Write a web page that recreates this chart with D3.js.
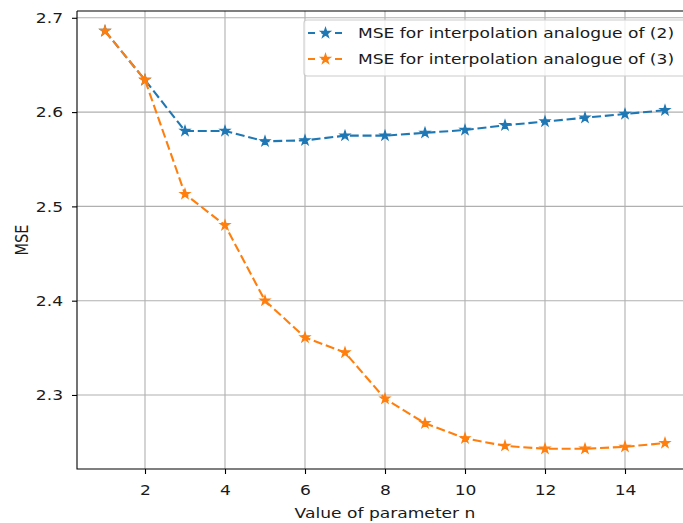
<!DOCTYPE html>
<html>
<head>
<meta charset="utf-8">
<script src="https://cdn.jsdelivr.net/npm/d3@7"></script>
<style>
  body { margin: 0; background: #fff; }
  svg { display: block; font-family: "DejaVu Sans", sans-serif; }
</style>
</head>
<body>
<svg width="683" height="523"></svg>
<script>
const svg = d3.select("svg");
const width = +svg.attr("width");
const height = +svg.attr("height");

// data
const nValues = [1, 2, 3, 4, 5, 6, 7, 8, 9, 10, 11, 12, 13, 14, 15];
const mse2 = [2.686, 2.634, 2.580, 2.580, 2.569, 2.570, 2.575, 2.575, 2.578, 2.581, 2.586, 2.590, 2.594, 2.598, 2.602];
const mse3 = [2.686, 2.634, 2.513, 2.480, 2.400, 2.361, 2.345, 2.296, 2.270, 2.254, 2.246, 2.243, 2.243, 2.245, 2.249];
const seriesNames = ["MSE for interpolation analogue of (2)", "MSE for interpolation analogue of (3)"];
const seriesColors = ["#1f77b4", "#ff7f0e"];
const xTicks = [2, 4, 6, 8, 10, 12, 14];
const yTicks = [2.3, 2.4, 2.5, 2.6, 2.7];

// plot box (right side falls off the picture, like the original)
const plotLeft = 77, plotRight = 693, plotTop = 11, plotBottom = 469;

const x = d3.scaleLinear().domain([0.3, 15.7]).range([plotLeft, plotRight]);
const y = d3.scaleLinear().domain([2.2215, 2.7072]).range([plotBottom, plotTop]);

const fontSize = 14.5;
const sx = 1.18; // original picture is a bit wider than tall
const dash = "9,3.8";
const series = [mse2, mse3];

// grid
const grid = svg.append("g").attr("stroke", "#b0b0b0").attr("stroke-width", 1.1);
grid.selectAll(".gx").data(xTicks).join("line").attr("class", "gx")
  .attr("x1", d => x(d)).attr("x2", d => x(d))
  .attr("y1", plotTop).attr("y2", plotBottom);
grid.selectAll(".gy").data(yTicks).join("line").attr("class", "gy")
  .attr("x1", plotLeft).attr("x2", plotRight)
  .attr("y1", d => y(d)).attr("y2", d => y(d));

// lines + markers
const line = d3.line().x((d, i) => x(nValues[i])).y(d => y(d));
const star = d3.symbol().type(d3.symbolStar).size(29);

series.forEach((vals, k) => {
  svg.append("path")
    .attr("d", line(vals))
    .attr("fill", "none")
    .attr("stroke", seriesColors[k])
    .attr("stroke-width", 2.1)
    .attr("stroke-dasharray", dash);
  svg.append("g").selectAll("path").data(vals).join("path")
    .attr("transform", (d, i) => `translate(${x(nValues[i])},${y(d)})`)
    .attr("d", star)
    .attr("fill", seriesColors[k])
    .attr("stroke", seriesColors[k])
    .attr("stroke-width", 1.2);
});

// axes
const xAxis = svg.append("g")
  .attr("transform", `translate(0,${plotBottom})`)
  .call(d3.axisBottom(x).tickValues(xTicks).tickSize(5).tickPadding(11).tickFormat(d3.format("d")));
const yAxis = svg.append("g")
  .attr("transform", `translate(${plotLeft},0)`)
  .call(d3.axisLeft(y).tickValues(yTicks).tickSize(5).tickPadding(9).tickFormat(d3.format(".1f")));

[xAxis, yAxis].forEach(a => {
  a.select(".domain").remove();
  a.selectAll(".tick line").attr("stroke", "#000").attr("stroke-width", 1.1);
  a.selectAll(".tick text").attr("fill", "#1a1a1a").style("font-size", fontSize + "px")
    .style("font-family", "DejaVu Sans");
});
xAxis.selectAll(".tick text").attr("transform", `scale(${sx},1)`);
yAxis.selectAll(".tick text").attr("x", -14 / sx).attr("transform", `scale(${sx},1)`);

// spines
svg.append("path")
  .attr("d", `M${plotLeft},${plotTop}V${plotBottom}H${plotRight}M${plotLeft},${plotTop}H${plotRight}V${plotBottom}`)
  .attr("fill", "none").attr("stroke", "#000").attr("stroke-width", 1.1);

// axis labels
svg.append("text")
  .attr("transform", `translate(${(plotLeft + plotRight) / 2},518) scale(${sx},1)`)
  .attr("text-anchor", "middle")
  .style("font-size", fontSize + "px").attr("fill", "#1a1a1a")
  .text("Value of parameter n");
svg.append("text")
  .attr("transform", `translate(28,${(plotTop + plotBottom) / 2}) rotate(-90) scale(1,${sx})`)
  .attr("text-anchor", "middle")
  .style("font-size", fontSize + "px").attr("fill", "#1a1a1a")
  .text("MSE");

// legend
const legend = svg.append("g");
legend.append("rect")
  .attr("x", 304).attr("y", 20).attr("width", 382).attr("height", 56)
  .attr("rx", 3).attr("fill", "#fff").attr("fill-opacity", 0.8)
  .attr("stroke", "#cccccc").attr("stroke-width", 1.1);
seriesNames.forEach((name, k) => {
  const cy = 33 + k * 26;
  legend.append("line")
    .attr("x1", 308).attr("x2", 343).attr("y1", cy).attr("y2", cy)
    .attr("stroke", seriesColors[k]).attr("stroke-width", 2.1)
    .attr("stroke-dasharray", "7,6.5");
  legend.append("path")
    .attr("transform", `translate(325.5,${cy})`)
    .attr("d", star)
    .attr("fill", seriesColors[k]).attr("stroke", seriesColors[k]).attr("stroke-width", 1.2);
  legend.append("text")
    .attr("transform", `translate(358,${cy + 5.2}) scale(${sx},1)`)
    .style("font-size", fontSize + "px").attr("fill", "#1a1a1a")
    .text(name);
});
</script>
</body>
</html>
